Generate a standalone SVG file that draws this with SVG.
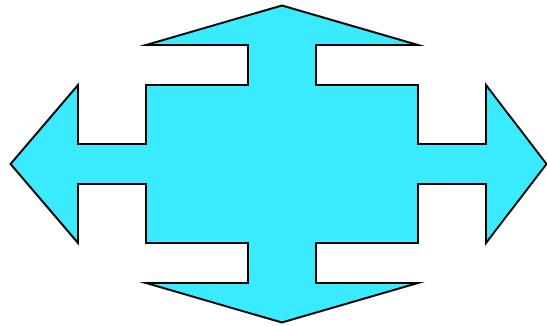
<svg xmlns="http://www.w3.org/2000/svg" width="547" height="326" viewBox="0 0 547 326">
<style>
.shape{fill:#3AEBFF;stroke:#000;stroke-width:2;stroke-linejoin:miter;stroke-miterlimit:10}
</style>
<g id="cross-arrow">
<polygon class="shape" points="282,5.5 418,45 316,45 316,85 418,85 418,144 486,144 486,85 546.5,164 486,243 486,184 418,184 418,243 316,243 316,283 418,283 282,322.5 146,283 248,283 248,243 146,243 146,184 78,184 78,243 10.5,164 78,85 78,144 146,144 146,85 248,85 248,45 146,45"/>
</g>
</svg>
